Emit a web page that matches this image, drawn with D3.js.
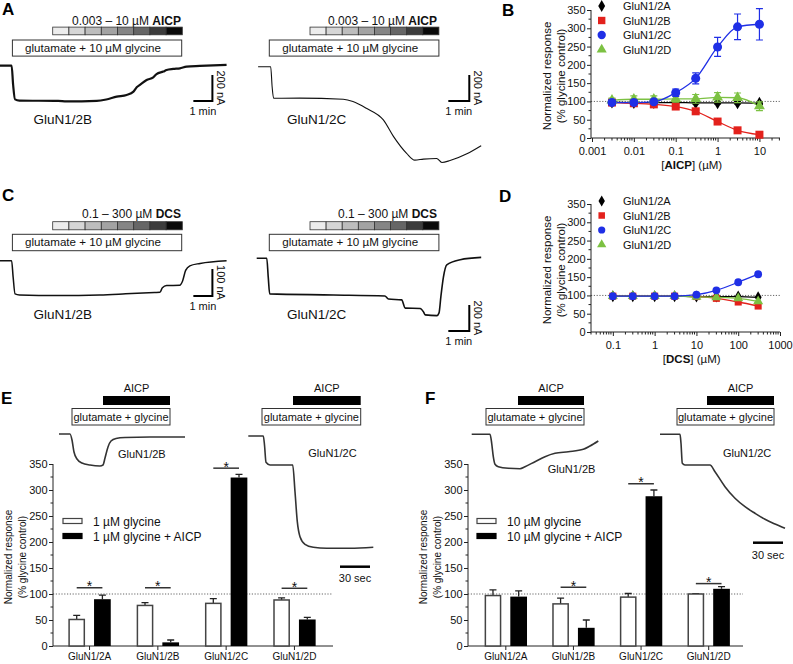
<!DOCTYPE html>
<html><head><meta charset="utf-8">
<script src="https://cdn.jsdelivr.net/npm/d3@7"></script>
<style>body{margin:0;background:#fff}svg{display:block}</style>
</head><body><svg id="fig" width="793" height="664"></svg>
<script>
// ---------------- DATA ----------------
const receptors = ["GluN1/2A","GluN1/2B","GluN1/2C","GluN1/2D"];
const concGreys = ["#ececec","#d6d6d6","#bdbdbd","#a3a3a3","#858585","#666666","#3c3c3c","#0a0a0a"];

// Panel B: AICP concentration-response (% glycine control)
const aicpConc = [0.003,0.01,0.03,0.1,0.3,1,3,10];
const aicpTicks = [0.001,0.01,0.1,1,10];
const aicp2A = [98,97,97,97,96,96,96,95];
const aicp2A_err = [3,3,3,3,3,3,3,4];
const aicp2B = [97,95,92,86,73,45,21,9];
const aicp2B_err = [3,3,3,4,4,4,3,2];
const aicp2C = [97,97,99,124,163,249,304,311];
const aicp2C_err = [4,4,4,10,15,26,35,43];
const aicp2D = [103,106,106,107,107,111,110,87];
const aicp2D_err = [6,9,9,9,12,13,13,12];

// Panel D: DCS concentration-response
const dcsConc = [0.1,0.3,1,3,10,30,100,300];
const dcsTicks = [0.1,1,10,100,1000];
const dcs2A = [98,98,98,98,97,97,97,95];
const dcs2B = [98,98,98,98,97,92,82,71];
const dcs2C = [98,98,98,98,102,114,136,158];
const dcs2D = [98,98,98,98,96,95,92,84];

const respTicks = [0,50,100,150,200,250,300,350];

// Panel E: 1 uM glycine
const gly1 = [51,78,82,88.5];
const gly1_err = [8,5.5,9,4];
const gly1AICP = [90,7,324,51];
const gly1AICP_err = [8,4.5,6,4];
const sigE = [112,112,342,111];
const legendE = ["1 µM glycine","1 µM glycine + AICP"];

// Panel F: 10 uM glycine
const gly10 = [97,81,94,100];
const gly10_err = [11,11,7,0.8];
const gly10AICP = [95,35,288,110];
const gly10AICP_err = [11,15,12,4];
const sigF = [null,113,312,120];
const legendF = ["10 µM glycine","10 µM glycine + AICP"];

// Recording traces (A, C: time in min, current in nA)
const trA2B_t = [0,0.61,0.69,0.79,1.02,3.05,3.50,5.08,5.58,6.13,6.65,7.01,7.18,7.35,7.70,8.05,8.22,8.58,8.75,9.10,9.45,9.80,10.50,11.90];
const trA2B_i = [0,0,-148,-258,-267,-270,-274,-270,-259,-237,-224,-199,-165,-147,-110,-89,-64,-45,-33,-25,-20,-7,-2,6];
const trA2C_t = [0,0.60,0.67,0.74,1.98,4.06,4.52,5.16,5.97,6.45,7.08,7.47,7.88,8.51,8.76,9.15,9.95,10.63];
const trA2C_i = [0,0,-156,-242,-241,-250,-267,-319,-408,-534,-664,-716,-708,-703,-734,-719,-667,-605];
const trC2B_t = [0,0.61,0.69,0.79,1.02,3.05,5.23,6.60,8.12,8.40,8.53,8.75,9.44,9.59,9.75,9.97,10.51,11.90];
const trC2B_i = [0,0,-61,-123,-127,-129,-127,-123,-118,-117,-100,-92,-91,-75,-36,-19,-10,0];
const trC2C_t = [0,0.48,0.55,0.62,3.66,6.11,6.28,6.91,7.08,7.79,7.95,8.03,8.59,8.69,8.78,8.90,9.06,9.70,10.70];
const trC2C_i = [0,0,-145,-274,-282,-290,-313,-320,-383,-386,-412,-435,-441,-420,-293,-145,-51,-11,7];
// E, F traces: time in s, current in arbitrary units
const trE2B_t = [0,11,13,15,18,23,31,41,44,46,49,52,57,66,91,126];
const trE2B_i = [0,0,-6,-18,-25,-29,-31,-32,-31,-24,-13,-7,-4.5,-3.5,-3,-3];
const trE2C_t = [0,15,16.2,17.7,21.7,44.4,46.7,49,51.7,56.7,65,78.4,101.7,125];
const trE2C_i = [0,0,-9,-26.3,-29,-29,-55.7,-85.7,-100.7,-108.3,-111.3,-112.3,-112.3,-111.3];
const trF2B_t = [0,18.3,20,21.6,23.3,26.6,36.6,48.3,53.3,63.3,73.3,83.3,96.6,111.6,118.3,126.6];
const trF2B_i = [0,0,-9,-22.4,-30,-32.4,-34,-34.4,-32.4,-27.4,-22.4,-19,-17.4,-15,-11.7,-6.7];
const trF2C_t = [0,20,21,22.3,25,50,55,65,75,85,95,105,115,125];
const trF2C_i = [0,0,-9,-29,-30.7,-30.7,-37.4,-52.4,-64,-72.4,-79,-85,-89.7,-94];

// ---------------- DRAWING ----------------
const F = "'Liberation Sans', Arial, Helvetica, sans-serif";
const svg = d3.select("#fig");
svg.append("rect").attr("width",793).attr("height",664).attr("fill","#fff");

function text(x,y,s,o={}){
  const t = svg.append("text").attr("x",x).attr("y",y).text(s)
    .attr("font-family",F).attr("font-size",o.size||11).attr("fill",o.fill||"#111")
    .attr("text-anchor",o.anchor||"start");
  if(o.weight) t.attr("font-weight",o.weight);
  if(o.rotate!=null) t.attr("transform",`rotate(${o.rotate},${x},${y})`);
  return t;
}
function mixedText(x,y,parts,o={}){
  const t = svg.append("text").attr("x",x).attr("y",y).attr("font-family",F)
    .attr("font-size",o.size||11).attr("fill","#111").attr("text-anchor",o.anchor||"start");
  parts.forEach(p=>{ const s=t.append("tspan").text(p[0]); if(p[1]) s.attr("font-weight","bold"); });
  return t;
}

// panel letters
[["A",2,15],["B",502,15.5],["C",2,201],["D",499,202],["E",1,404],["F",425,404]].forEach(d=>text(d[1],d[2],d[0],{size:17,weight:"bold",fill:"#000"}));

function concBar(x0,x1,y,h){
  const xs = d3.scaleBand().domain(d3.range(concGreys.length)).range([x0,x1]);
  concGreys.forEach((c,i)=>svg.append("rect").attr("x",xs(i)).attr("y",y).attr("width",xs.bandwidth()).attr("height",h)
    .attr("fill",c).attr("stroke","#333").attr("stroke-width",0.8));
}
function box(x0,x1,y0,y1,label,fs,tx){
  svg.append("rect").attr("x",x0).attr("y",y0).attr("width",x1-x0).attr("height",y1-y0)
    .attr("fill","#fff").attr("stroke","#333").attr("stroke-width",1);
  if(tx==null) text((x0+x1)/2,y1-4.5,label,{size:fs,anchor:"middle"});
  else text(tx,y1-4.5,label,{size:fs});
}
function trace(ts,is,o){
  const sx = d3.scaleLinear().domain([0,1]).range([o.x0,o.x0+o.pxT]);
  const sy = d3.scaleLinear().domain([0,1]).range([o.y0,o.y0-o.pxI]);
  const pts = ts.map((t,k)=>[sx(t),sy(is[k])]);
  svg.append("path").attr("d",d3.line().curve(d3.curveMonotoneX)(pts)).attr("fill","none")
    .attr("stroke",o.color||"#111").attr("stroke-width",o.w||1.5).attr("stroke-linejoin","round");
  return {sx,sy};
}
function lScale(sc,cornerX,cornerY,tUnit,iUnit,tLabel,iLabel){
  const w = sc.sx(tUnit)-sc.sx(0), h = sc.sy(0)-sc.sy(iUnit);
  svg.append("path").attr("d",`M${cornerX-w},${cornerY}H${cornerX}V${cornerY-h}`).attr("fill","none").attr("stroke","#000").attr("stroke-width",2);
  text(cornerX-w/2,cornerY+13.5,tLabel,{size:11,anchor:"middle"});
  text(cornerX+4.5,cornerY-h/2,iLabel,{size:11,anchor:"middle",rotate:90});
}

// ---- Panel A ----
mixedText(181,24.7,[["0.003 – 10 µM "],["AICP",true]],{size:12,anchor:"end"});
concBar(52.7,182.3,27.1,7.7);
box(12.4,181.7,40,56.1,"glutamate + 10 µM glycine",11.6,25.1);
let sc = trace(trA2B_t,trA2B_i,{x0:0,y0:65.7,pxT:19.04,pxI:0.1305,w:2.2});
lScale(sc,212.4,101,1,200,"1 min","200 nA");
text(33.4,123.7,"GluN1/2B",{size:13.5});

mixedText(437,24.7,[["0.003 – 10 µM "],["AICP",true]],{size:12,anchor:"end"});
concBar(310,438.9,27.1,7.7);
box(269.3,438.9,40,56.1,"glutamate + 10 µM glycine",11.6,282.3);
sc = trace(trA2C_t,trA2C_i,{x0:258.1,y0:66.7,pxT:20.98,pxI:0.1305,w:1.1});
lScale(sc,469.3,101,1,200,"1 min","200 nA");
text(287.1,123.7,"GluN1/2C",{size:13.5});

// ---- Panel C ----
mixedText(181,218.2,[["0.1 – 300 µM "],["DCS",true]],{size:12,anchor:"end"});
concBar(52.7,182.3,221.7,8.1);
box(12.4,181.7,234.3,250.7,"glutamate + 10 µM glycine",11.6,25.1);
sc = trace(trC2B_t,trC2B_i,{x0:0,y0:260.7,pxT:19.04,pxI:0.2697,w:1.5});
lScale(sc,212.4,296,1,100,"1 min","100 nA");
text(33.4,318.7,"GluN1/2B",{size:13.5});

mixedText(437,218.2,[["0.1 – 300 µM "],["DCS",true]],{size:12,anchor:"end"});
concBar(310,438.9,221.7,8.1);
box(269.3,438.9,234.3,250.7,"glutamate + 10 µM glycine",11.6,282.3);
sc = trace(trC2C_t,trC2C_i,{x0:256.7,y0:258.3,pxT:20.98,pxI:0.13,w:1.6});
lScale(sc,469.3,331,1,200,"1 min","200 nA");
text(287.1,318.7,"GluN1/2C",{size:13.5});

// ---- Panels B & D ----
const COL = {A:"#000000",B:"#e3211c",C:"#1f2fe6",D:"#7cc142"};
const SYM = {A:d3.symbolDiamond,B:d3.symbolSquare,C:d3.symbolCircle,D:d3.symbolTriangle};
function styleAxis(g,fs){
  g.selectAll("text").attr("font-family",F).attr("font-size",fs).attr("fill","#111");
  g.selectAll("line").attr("stroke","#222");
  g.select(".domain").remove();
}
function doseResponse(cfg){
  const x = d3.scaleLog().domain(cfg.xDomain).range([cfg.xStart,780]);
  const y = d3.scaleLinear().domain([0,350]).range([cfg.y0,cfg.y0-128]);
  const g = svg.append("g");
  g.append("line").attr("x1",591).attr("x2",780).attr("y1",y(100)).attr("y2",y(100))
    .attr("stroke","#555").attr("stroke-width",0.9).attr("stroke-dasharray","1.2,1.6");
  const ya = g.append("g").attr("transform","translate(591,0)")
    .call(d3.axisLeft(y).tickValues(respTicks).tickSize(4).tickPadding(1.5));
  styleAxis(ya,11);
  g.append("line").attr("x1",591).attr("x2",591).attr("y1",y(0)).attr("y2",y(350)).attr("stroke","#222");
  respTicks.slice(0,-1).forEach(v=>g.append("line").attr("x1",591).attr("x2",588.5).attr("y1",y(v+25)).attr("y2",y(v+25)).attr("stroke","#222"));
  const xa = g.append("g").attr("transform",`translate(0,${cfg.y0})`)
    .call(d3.axisBottom(x).tickValues(cfg.ticks).tickFormat(d=>String(d)).tickSize(4).tickPadding(5));
  styleAxis(xa,11);
  g.append("line").attr("x1",591).attr("x2",780).attr("y1",cfg.y0).attr("y2",cfg.y0).attr("stroke","#222");
  const [d0,d1] = cfg.xDomain;
  for(let k=Math.floor(Math.log10(d0));k<=Math.ceil(Math.log10(d1));k++){
    for(let m=2;m<=9;m++){ const v=m*Math.pow(10,k); if(v>=d0&&v<=d1)
      g.append("line").attr("x1",x(v)).attr("x2",x(v)).attr("y1",cfg.y0).attr("y2",cfg.y0+2.5).attr("stroke","#222"); }
  }
  mixedText(691.7,cfg.y0+31,[["["],[cfg.drug,true],["] (µM)"]],{size:11.5,anchor:"middle"});
  const yc = y(175)+2;
  text(551,yc,"Normalized response",{size:11.5,anchor:"middle",rotate:-90});
  text(564.5,yc,"(% glycine control)",{size:11.5,anchor:"middle",rotate:-90});
  cfg.series.forEach(s=>{
    const pts = cfg.conc.map((c,i)=>[x(c),y(s.v[i])]);
    g.append("path").attr("d",d3.line().curve(d3.curveMonotoneX)(pts)).attr("fill","none")
      .attr("stroke",COL[s.k]).attr("stroke-width",1.3);
  });
  cfg.series.forEach(s=>{
    if(s.e) cfg.conc.forEach((c,i)=>{
      const xx=x(c), yt=y(s.v[i]+s.e[i]), yb=y(s.v[i]-s.e[i]);
      g.append("path").attr("d",`M${xx},${yb}V${yt}M${xx-3.5},${yt}H${xx+3.5}M${xx-3.5},${yb}H${xx+3.5}`)
        .attr("stroke",COL[s.k]).attr("stroke-width",1.2).attr("fill","none");
    });
    cfg.conc.forEach((c,i)=>{
      g.append("path").attr("d",d3.symbol(SYM[s.k],cfg.size[s.k])())
        .attr("transform",`translate(${x(c)},${y(s.v[i])})`).attr("fill",COL[s.k]);
    });
  });
  receptors.forEach((r,i)=>{
    const k = r.slice(-1), yy = cfg.legY + i*14.5;
    g.append("path").attr("d",d3.symbol(SYM[k],cfg.size[k]*0.85)()).attr("transform",`translate(601.7,${yy})`).attr("fill",COL[k]);
    text(623,yy+4,r,{size:11});
  });
}
doseResponse({xDomain:[0.001,31],xStart:592,y0:138,ticks:aicpTicks,conc:aicpConc,drug:"AICP",legY:6,
  size:{A:48,B:64,C:64,D:52},
  series:[{k:"A",v:aicp2A,e:aicp2A_err},{k:"B",v:aicp2B,e:aicp2B_err},{k:"D",v:aicp2D,e:aicp2D_err},{k:"C",v:aicp2C,e:aicp2C_err}]});
doseResponse({xDomain:[0.03,1000],xStart:591,y0:332,ticks:dcsTicks,conc:dcsConc,drug:"DCS",legY:201,
  size:{A:42,B:50,C:48,D:44},
  series:[{k:"A",v:dcs2A},{k:"B",v:dcs2B},{k:"D",v:dcs2D},{k:"C",v:dcs2C}]});

// ---- Panels E & F ----
function barPanel(cfg){
  const x = d3.scaleBand().domain(receptors).range(cfg.band);
  const sub = d3.scaleBand().domain(["ctrl","aicp"]).range([-21.2,21.2]).paddingInner(0.35);
  const y = d3.scaleLinear().domain([0,350]).range([646,464]);
  const ax = cfg.ax, g = svg.append("g");
  const cx = r => x(r)+x.bandwidth()/2;
  g.append("line").attr("x1",ax).attr("x2",cfg.axEnd).attr("y1",y(100)).attr("y2",y(100))
    .attr("stroke","#555").attr("stroke-width",0.9).attr("stroke-dasharray","1.2,1.6");
  const ya = g.append("g").attr("transform",`translate(${ax},0)`)
    .call(d3.axisLeft(y).tickValues(respTicks).tickSize(4).tickPadding(1.5));
  styleAxis(ya,11);
  g.append("line").attr("x1",ax).attr("x2",ax).attr("y1",y(0)).attr("y2",y(350)).attr("stroke","#222");
  respTicks.slice(0,-1).forEach(v=>g.append("line").attr("x1",ax).attr("x2",ax-2.5).attr("y1",y(v+25)).attr("y2",y(v+25)).attr("stroke","#222"));
  const xa = g.append("g").attr("transform","translate(0,646)").call(d3.axisBottom(x).tickSize(4).tickPadding(3));
  styleAxis(xa,10);
  g.append("line").attr("x1",ax).attr("x2",cfg.axEnd).attr("y1",646).attr("y2",646).attr("stroke","#222");
  const yc = y(175)+2;
  text(cfg.ylx,yc,"Normalized response",{size:10,anchor:"middle",rotate:-90});
  text(cfg.ylx+13.5,yc,"(% glycine control)",{size:10,anchor:"middle",rotate:-90});
  const bw = sub.bandwidth();
  receptors.forEach((r,i)=>{
    [["ctrl",cfg.ctrl[i],cfg.ctrlE[i]],["aicp",cfg.aicp[i],cfg.aicpE[i]]].forEach(([k,v,e])=>{
      const bx = cx(r)+sub(k), mid = bx+bw/2;
      g.append("path").attr("d",`M${mid},${y(v)}V${y(v+e)}M${mid-3.5},${y(v+e)}H${mid+3.5}`)
        .attr("stroke","#222").attr("stroke-width",1.3).attr("fill","none");
      g.append("rect").attr("x",bx+(k==="ctrl"?0.75:0)).attr("y",y(v)).attr("width",bw-(k==="ctrl"?1.5:0)).attr("height",y(0)-y(v))
        .attr("fill",k==="ctrl"?"#fff":"#000").attr("stroke",k==="ctrl"?"#444":"#000").attr("stroke-width",k==="ctrl"?1.5:0);
    });
    if(cfg.sig[i]!=null){
      const x1 = cx(r)+sub("ctrl")+bw/2, x2 = cx(r)+sub("aicp")+bw/2, yy = y(cfg.sig[i]);
      g.append("line").attr("x1",x1).attr("x2",x2).attr("y1",yy).attr("y2",yy).attr("stroke","#333").attr("stroke-width",1.5);
      text((x1+x2)/2,yy+3.5,"*",{size:14,anchor:"middle"});
    }
  });
  cfg.legend.forEach((l,i)=>{
    const yy = 518.5+i*15;
    g.append("rect").attr("x",cfg.legX).attr("y",yy).attr("width",19).attr("height",5)
      .attr("fill",i?"#000":"#fff").attr("stroke",i?"#000":"#444").attr("stroke-width",1.2);
    text(cfg.legX+30,yy+7,l,{size:12});
  });
}
barPanel({band:[55.4,328.6],ax:53,axEnd:333,ylx:12,ctrl:gly1,ctrlE:gly1_err,aicp:gly1AICP,aicpE:gly1AICP_err,sig:sigE,legend:legendE,legX:63});
barPanel({band:[472,742.5],ax:468,axEnd:743,ylx:427,ctrl:gly10,ctrlE:gly10_err,aicp:gly10AICP,aicpE:gly10AICP_err,sig:sigF,legend:legendF,legX:477});

function aicpBar(x0,x1){
  svg.append("rect").attr("x",x0).attr("y",396).attr("width",x1-x0).attr("height",9).attr("fill","#000");
  text((x0+x1)/2,392,"AICP",{size:11,anchor:"middle"});
}
aicpBar(103,170); aicpBar(293,360.7); aicpBar(518,584); aicpBar(707,774);
box(72,170,408.5,425,"glutamate + glycine",11);
box(262,360.7,408.5,425,"glutamate + glycine",11);
box(486,584,408.5,425,"glutamate + glycine",11);
box(677,774,408.5,425,"glutamate + glycine",11);

sc = trace(trE2B_t,trE2B_i,{x0:59,y0:434,pxT:1,pxI:1,w:1.6,color:"#333"});
text(118,458,"GluN1/2B",{size:11});
sc = trace(trE2C_t,trE2C_i,{x0:248.3,y0:436,pxT:1,pxI:1,w:1.6,color:"#333"});
text(308.3,457,"GluN1/2C",{size:11});
svg.append("line").attr("x1",340).attr("x2",340+sc.sx(30)-sc.sx(0)).attr("y1",566.7).attr("y2",566.7).attr("stroke","#000").attr("stroke-width",2.5);
text(355,582,"30 sec",{size:11,anchor:"middle"});

sc = trace(trF2B_t,trF2B_i,{x0:471.7,y0:434.3,pxT:1,pxI:1,w:1.6,color:"#333"});
text(547.7,473,"GluN1/2B",{size:11});
sc = trace(trF2C_t,trF2C_i,{x0:660,y0:434.3,pxT:1,pxI:1,w:1.6,color:"#333"});
text(723,457,"GluN1/2C",{size:11});
svg.append("line").attr("x1",753).attr("x2",753+sc.sx(30)-sc.sx(0)).attr("y1",542.7).attr("y2",542.7).attr("stroke","#000").attr("stroke-width",2.5);
text(768,559,"30 sec",{size:11,anchor:"middle"});
</script></body></html>
